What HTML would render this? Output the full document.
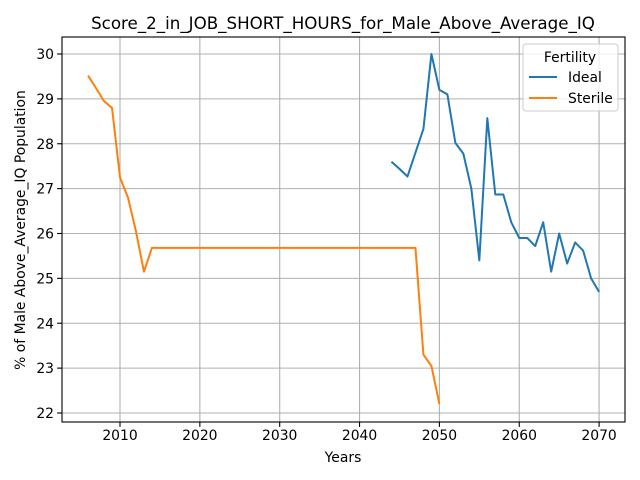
<!DOCTYPE html>
<html><head><meta charset="utf-8"><style>body{margin:0;background:#fff}svg{display:block;font-family:"DejaVu Sans","Liberation Sans",sans-serif}</style></head>
<body>
<svg id="chart" width="640" height="480"></svg>
<script>
const idealYears=[2044,2045,2046,2047,2048,2049,2050,2051,2052,2053,2054,2055,2056,2057,2058,2059,2060,2061,2062,2063,2064,2065,2066,2067,2068,2069,2070];
const idealValues=[27.6,27.44,27.27,27.8,28.33,30.0,29.2,29.1,28.02,27.78,27.0,25.4,28.57,26.87,26.87,26.25,25.9,25.9,25.72,26.25,25.15,26.0,25.33,25.8,25.62,25.0,24.7];
const sterileYears=[2006,2007,2008,2009,2010,2011,2012,2013,2014,2047,2048,2049,2050];
const sterileValues=[29.52,29.24,28.95,28.8,27.25,26.8,26.05,25.15,25.68,25.68,23.3,23.05,22.2];
const xTicks=[2010,2020,2030,2040,2050,2060,2070];
const yTicks=[22,23,24,25,26,27,28,29,30];
const NS="http://www.w3.org/2000/svg";
const svg=document.getElementById('chart');
const L=62,R=625,T=37,B=422;
const sx=v=>120+(v-2010)*7.985;
const sy=v=>413-(v-22)*44.875;
function mk(tag,attrs,parent){const e=document.createElementNS(NS,tag);for(const k in attrs)e.setAttribute(k,attrs[k]);(parent||svg).appendChild(e);return e;}
xTicks.forEach(t=>{const x=sx(t);
const g=mk('line',{x1:x,x2:x,y1:T,y2:B,stroke:'#b0b0b0','stroke-width':1.1});


mk('line',{x1:x,x2:x,y1:B,y2:B+4.9,stroke:'#000','stroke-width':1.1});
const tx=mk('text',{x:x,y:B+18,'font-size':13.9,'text-anchor':'middle'});tx.textContent=t;

});
yTicks.forEach(t=>{const y=sy(t);
const g=mk('line',{x1:L,x2:R,y1:y,y2:y,stroke:'#b0b0b0','stroke-width':1.1});


mk('line',{x1:L-4.9,x2:L,y1:y,y2:y,stroke:'#000','stroke-width':1.1});
const tx=mk('text',{x:L-8,y:y+5,'font-size':13.9,'text-anchor':'end'});tx.textContent=t;

});
function series(xs,ys,color,name){const p=mk('polyline',{points:xs.map((x,i)=>sx(x)+','+sy(ys[i])).join(' '),fill:'none',stroke:color,'stroke-width':2,'stroke-linejoin':'round'});

}
series(idealYears,idealValues,'#1f77b4','ideal-line');
series(sterileYears,sterileValues,'#ff7f0e','sterile-line');
const fr=mk('rect',{x:L,y:T,width:R-L,height:B-T,fill:'none',stroke:'#000','stroke-width':1.1});


</script>
<div style="position:absolute;left:0;top:0;width:640px;height:480px;pointer-events:none">
<svg width="640" height="480" style="position:absolute;left:0;top:0;font-family:'DejaVu Sans','Liberation Sans',sans-serif">
<text x="343" y="29" font-size="16.7" text-anchor="middle">Score_2_in_JOB_SHORT_HOURS_for_Male_Above_Average_IQ</text>
<text x="343" y="462" font-size="13.9" text-anchor="middle">Years</text>
<text x="0" y="0" font-size="13.9" text-anchor="middle" transform="translate(25,230) rotate(-90)">% of Male Above_Average_IQ Population</text>
<g>
<rect x="523" y="44" width="95" height="67" rx="3" fill="#fff" fill-opacity="0.8" stroke="#ccc" stroke-width="1"/>
<text x="570" y="62" font-size="13.9" text-anchor="middle">Fertility</text>
<line x1="529" y1="77" x2="557" y2="77" stroke="#1f77b4" stroke-width="2"/>
<text x="568" y="82" font-size="13.9">Ideal</text>
<line x1="529" y1="98" x2="557" y2="98" stroke="#ff7f0e" stroke-width="2"/>
<text x="568" y="103" font-size="13.9">Sterile</text>
</g>
</svg></div>
</body></html>
